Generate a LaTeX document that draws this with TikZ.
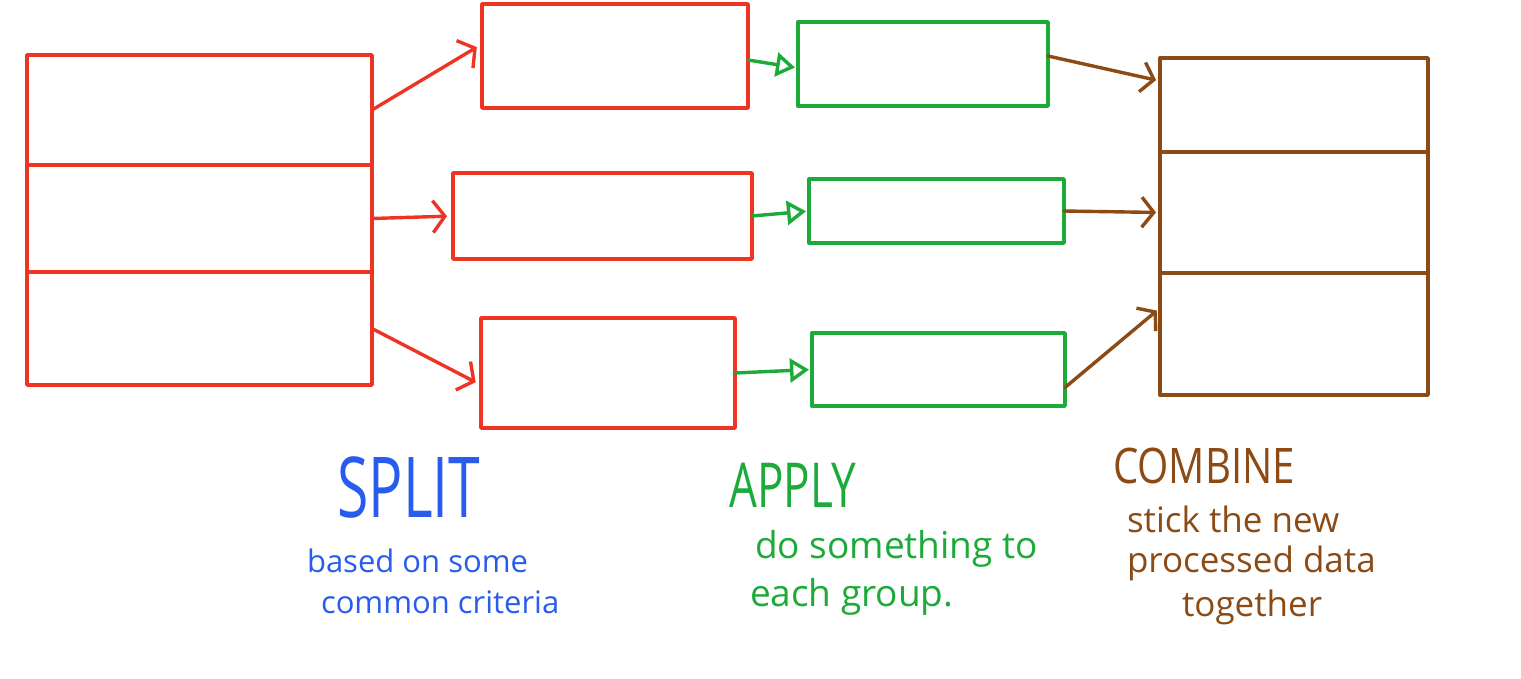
\documentclass[tikz,border=0pt]{standalone}
\usepackage{fontspec}
\setmainfont{Open Sans}
\usepackage{xcolor}
\usetikzlibrary{arrows.meta, positioning}

\definecolor{splitred}{RGB}{238,52,36}
\definecolor{splitblue}{RGB}{40,92,236}
\definecolor{applygreen}{RGB}{28,170,56}
\definecolor{combbrown}{RGB}{140,74,20}

\tikzset{
  redbox/.style={draw=splitred, anchor=north west},
  greenbox/.style={draw=applygreen, anchor=north west},
  brownbox/.style={draw=combbrown, anchor=north west},
  redarrow/.style={draw=splitred, -{Straight Barb[length=12pt,width=32pt]}, shorten >=6pt},
  greenarrow/.style={draw=applygreen, -{Triangle[open,length=19pt,width=24pt]}, shorten >=3pt},
  brownarrow/.style={draw=combbrown, -{Straight Barb[length=12pt,width=30pt]}, shorten >=4pt},
  bigword/.style={font=\fontsize{#1}{#1}\selectfont},
  noteline/.style={anchor=base west, font=\fontsize{#1}{#1}\selectfont}
}

\begin{document}
\begin{tikzpicture}[x=1pt, y=-1pt, line width=3.4pt, line cap=round, line join=round,
    every node/.style={inner sep=0pt, outer sep=0pt}]
    \useasboundingbox (0,0) rectangle (1521,678);

    % Split: the original table, three rows
    \node[redbox, minimum width=345pt, minimum height=110pt] (src1) at (27,55) {};
    \node[redbox, minimum width=345pt, minimum height=107pt] (src2) at (27,165) {};
    \node[redbox, minimum width=345pt, minimum height=113pt] (src3) at (27,272) {};

    % the groups
    \node[redbox, minimum width=266pt, minimum height=104pt] (grp1) at (482,4) {};
    \node[redbox, minimum width=299pt, minimum height=86pt] (grp2) at (453,173) {};
    \node[redbox, minimum width=254pt, minimum height=110pt] (grp3) at (481,318) {};

    \draw[redarrow] (src1.east) -- ([yshift=12pt]grp1.west);
    \draw[redarrow] (src2.east) -- (grp2.west);
    \draw[redarrow] (src3.east) -- ([yshift=-12pt]grp3.west);

    % Apply: results per group
    \node[greenbox, minimum width=250pt, minimum height=84pt] (res1) at (798,22) {};
    \node[greenbox, minimum width=255pt, minimum height=64pt] (res2) at (809,179) {};
    \node[greenbox, minimum width=253pt, minimum height=73pt] (res3) at (812,333) {};

    \draw[greenarrow] ([yshift=-4pt]grp1.east) -- ([yshift=-4pt]res1.west);
    \draw[greenarrow] (grp2.east) -- (res2.west);
    \draw[greenarrow] (grp3.east) -- (res3.west);

    % Combine: the new table
    \node[brownbox, minimum width=268pt, minimum height=94pt] (cmb1) at (1160,58) {};
    \node[brownbox, minimum width=268pt, minimum height=121pt] (cmb2) at (1160,152) {};
    \node[brownbox, minimum width=268pt, minimum height=122pt] (cmb3) at (1160,273) {};

    \draw[brownarrow] ([yshift=8pt]res1.east) -- ([yshift=24pt]cmb1.west);
    \draw[brownarrow] (res2.east) -- (cmb2.west);
    \draw[brownarrow] ([yshift=-18pt]res3.east) -- ([yshift=26pt]cmb3.west);

    % Labels
    \node[bigword=84, text=splitblue] (splittitle) at (409,487) {\scalebox{0.68}[1]{SPLIT}};
    \node[noteline=31, text=splitblue] (splitnoteA) at (307,572) {based on some};
    \node[noteline=31, text=splitblue] (splitnoteB) at (321,613) {common criteria};

    \node[bigword=62, text=applygreen] (applytitle) at (793,485) {\scalebox{0.71}[1]{APPLY}};
    \node[noteline=37, text=applygreen] (applynoteA) at (755,558) {do something to};
    \node[noteline=37, text=applygreen] (applynoteB) at (750,606) {each group.};

    \node[bigword=49, text=combbrown] (combtitle) at (1204,466) {\scalebox{0.82}[1]{COMBINE}};
    \node[noteline=35, text=combbrown] (combnoteA) at (1127,532) {stick the new};
    \node[noteline=35, text=combbrown] (combnoteB) at (1127,572) {processed data};
    \node[noteline=35, text=combbrown] (combnoteC) at (1182,616) {together};
\end{tikzpicture}
\end{document}
